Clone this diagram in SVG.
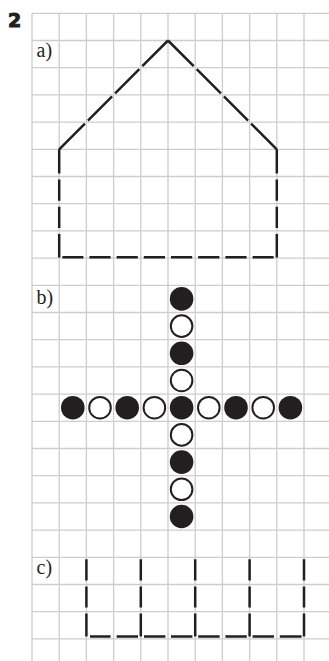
<svg xmlns="http://www.w3.org/2000/svg" width="329" height="661" viewBox="0 0 329 661">
<style>
.grid{stroke:#cdcdcd;stroke-width:1.3;fill:none}
.dash{stroke:#231f20;stroke-width:2.5;fill:none;stroke-linecap:butt}
.lbl{font-family:"Liberation Serif","Times New Roman",serif;font-size:20px;fill:#231f20}
.num{font-family:"DejaVu Sans","Liberation Sans",sans-serif;font-size:19px;font-weight:bold;fill:#231f20;stroke:#231f20;stroke-width:1}
.blk{fill:#231f20}
.wht{fill:#fff;stroke:#231f20;stroke-width:2}
</style>
<rect width="329" height="661" fill="#fff"/>
<g id="grid" class="grid">
<path d="M32,13.3V661M59.2,13.3V661M86.4,13.3V661M113.6,13.3V661M140.8,13.3V661M168,13.3V661M195.2,13.3V661M222.4,13.3V661M249.6,13.3V661M276.8,13.3V661M304,13.3V661"/>
<path d="M32,13.3H329M32,40.5H329M32,67.7H329M32,94.9H329M32,122.1H329M32,149.3H329M32,176.5H329M32,203.7H329M32,230.9H329M32,258.1H329M32,285.3H329M32,312.5H329M32,339.7H329M32,366.9H329M32,394.1H329M32,421.3H329M32,448.5H329M32,475.7H329M32,502.9H329M32,530.1H329M32,557.3H329M32,584.5H329M32,611.7H329M32,638.9H329"/>
</g>
<text class="num" x="8" y="27.3">2</text>
<g id="house">
<text class="lbl" x="36.5" y="57">a)</text>
<path class="dash" d="M168,40.5L142.3,66.2M139.3,69.2L115.1,93.4M112.1,96.4L87.9,120.6M84.9,123.6L59.2,149.3"/>
<path class="dash" d="M168,40.5L193.7,66.2M196.7,69.2L220.9,93.4M223.9,96.4L248.1,120.6M251.1,123.6L276.8,149.3"/>
<path class="dash" d="M59.2,149.3V173.5M59.2,179.5V200.7M59.2,206.7V227.9M59.2,233.9V257.5"/>
<path class="dash" d="M276.8,149.3V173.5M276.8,179.5V200.7M276.8,206.7V227.9M276.8,233.9V257.5"/>
<path class="dash" d="M62.4,257.3H83.4M89.4,257.3H110.6M116.6,257.3H137.8M143.8,257.3H165M171,257.3H192.2M198.2,257.3H219.4M225.4,257.3H246.6M252.6,257.3H273.6"/>
</g>
<g id="cross">
<text class="lbl" x="36.5" y="304.3">b)</text>
<circle class="blk" cx="181.6" cy="298.9" r="11.8"/>
<circle class="wht" cx="181.6" cy="326.1" r="10.8"/>
<circle class="blk" cx="181.6" cy="353.3" r="11.8"/>
<circle class="wht" cx="181.6" cy="380.5" r="10.8"/>
<circle class="blk" cx="72.8" cy="407.7" r="11.8"/>
<circle class="wht" cx="100" cy="407.7" r="10.8"/>
<circle class="blk" cx="127.2" cy="407.7" r="11.8"/>
<circle class="wht" cx="154.4" cy="407.7" r="10.8"/>
<circle class="blk" cx="181.6" cy="407.7" r="11.8"/>
<circle class="wht" cx="208.8" cy="407.7" r="10.8"/>
<circle class="blk" cx="236" cy="407.7" r="11.8"/>
<circle class="wht" cx="263.2" cy="407.7" r="10.8"/>
<circle class="blk" cx="290.4" cy="407.7" r="11.8"/>
<circle class="wht" cx="181.6" cy="434.9" r="10.8"/>
<circle class="blk" cx="181.6" cy="462.1" r="11.8"/>
<circle class="wht" cx="181.6" cy="489.3" r="10.8"/>
<circle class="blk" cx="181.6" cy="516.5" r="11.8"/>
</g>
<g id="comb">
<text class="lbl" x="36.5" y="573.5">c)</text>
<path class="dash" d="M86.4,559.3V580.5M86.4,586.5V607.5M86.4,613.5V636.5M140.8,559.3V580.5M140.8,586.5V607.5M140.8,613.5V636.5M195.2,559.3V580.5M195.2,586.5V607.5M195.2,613.5V636.5M249.6,559.3V580.5M249.6,586.5V607.5M249.6,613.5V636.5M304,559.3V580.5M304,586.5V607.5M304,613.5V636.5"/>
<path class="dash" d="M90,636.5H110.6M116.6,636.5H138M144,636.5H165.4M171,636.5H192.4M198.2,636.5H219.6M225.4,636.5H246.8M252.6,636.5H274M279.8,636.5H301.6"/>
</g>
</svg>
